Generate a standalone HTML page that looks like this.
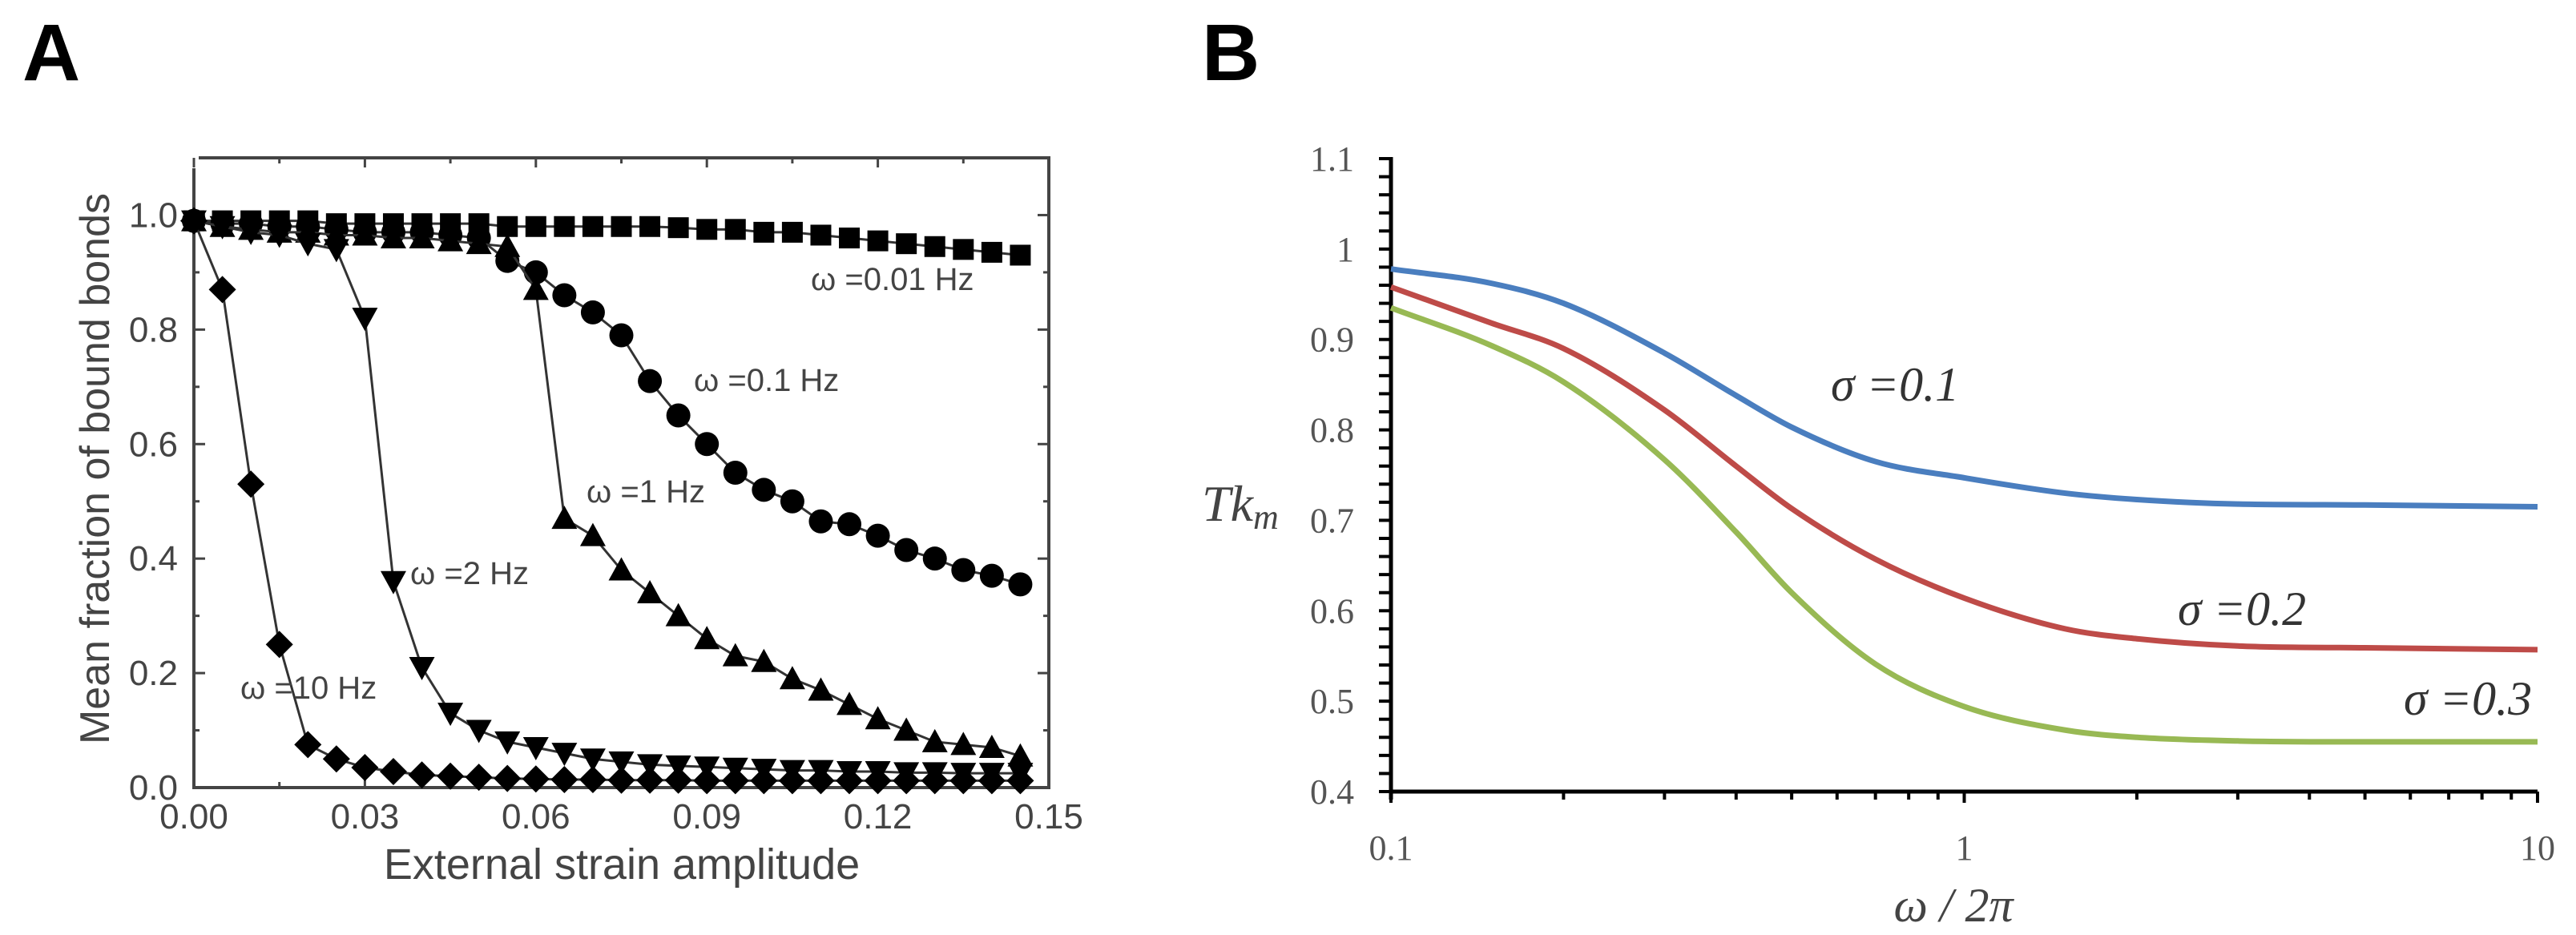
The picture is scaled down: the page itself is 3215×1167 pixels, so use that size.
<!DOCTYPE html>
<html><head><meta charset="utf-8"><style>
html,body{margin:0;padding:0;background:#fff;}
svg{display:block;}
</style></head><body>
<svg id="fig" width="3215" height="1167" viewBox="0 0 3215 1167" xmlns="http://www.w3.org/2000/svg">
<text x="28" y="100" font-family="Liberation Sans, sans-serif" font-weight="bold" font-size="100">A</text>
<text x="1500" y="100" font-family="Liberation Sans, sans-serif" font-weight="bold" font-size="100">B</text>
<g id="pa"></g>
<g id="pb"></g>
</svg>
<script>
// ---------- Panel A data ----------
const strainX = [0,0.005,0.01,0.015,0.02,0.025,0.03,0.035,0.04,0.045,0.05,0.055,0.06,0.065,0.07,0.075,0.08,0.085,0.09,0.095,0.1,0.105,0.11,0.115,0.12,0.125,0.13,0.135,0.14,0.145];
const hz001 = [0.99,0.99,0.99,0.99,0.99,0.985,0.985,0.985,0.985,0.985,0.985,0.98,0.98,0.98,0.98,0.98,0.98,0.978,0.975,0.975,0.97,0.97,0.965,0.96,0.955,0.95,0.945,0.94,0.935,0.93];
const hz01 = [0.99,0.985,0.985,0.98,0.98,0.975,0.97,0.97,0.97,0.965,0.96,0.92,0.90,0.86,0.83,0.79,0.71,0.65,0.60,0.55,0.52,0.50,0.465,0.46,0.44,0.415,0.40,0.38,0.37,0.355];
const hz1 = [0.99,0.98,0.975,0.97,0.97,0.965,0.965,0.96,0.96,0.955,0.95,0.945,0.87,0.47,0.44,0.38,0.34,0.30,0.26,0.23,0.22,0.19,0.17,0.145,0.12,0.10,0.08,0.075,0.07,0.055];
const hz2 = [0.99,0.98,0.97,0.965,0.95,0.94,0.82,0.36,0.21,0.13,0.10,0.08,0.07,0.06,0.05,0.045,0.04,0.038,0.036,0.034,0.032,0.03,0.03,0.028,0.028,0.026,0.026,0.025,0.025,0.025];
const hz10 = [0.99,0.87,0.53,0.25,0.075,0.05,0.035,0.028,0.022,0.02,0.018,0.016,0.015,0.014,0.014,0.013,0.013,0.013,0.012,0.012,0.012,0.012,0.012,0.012,0.012,0.012,0.012,0.012,0.012,0.012];
const aXTicks = [0,0.03,0.06,0.09,0.12,0.15];
const aXTickLabels = ["0.00","0.03","0.06","0.09","0.12","0.15"];
const aYTicks = [0,0.2,0.4,0.6,0.8,1.0];
const aYTickLabels = ["0.0","0.2","0.4","0.6","0.8","1.0"];

// ---------- Panel B data ----------
const freqX = [0.1,0.15,0.2,0.3,0.4,0.5,0.7,1,1.5,2,3,5,10];
const sigma01 = [0.978,0.962,0.94,0.885,0.838,0.803,0.765,0.747,0.73,0.723,0.718,0.717,0.715];
const sigma02 = [0.958,0.918,0.89,0.822,0.76,0.713,0.657,0.614,0.58,0.569,0.561,0.559,0.557];
const sigma03 = [0.935,0.893,0.853,0.767,0.687,0.62,0.541,0.494,0.468,0.46,0.456,0.455,0.455];
const bXTicks = [0.1,1,10];
const bXTickLabels = ["0.1","1","10"];
const bYTicks = [0.4,0.5,0.6,0.7,0.8,0.9,1.0,1.1];
const bYTickLabels = ["0.4","0.5","0.6","0.7","0.8","0.9","1","1.1"];

const NS = "http://www.w3.org/2000/svg";
function mk(tag, attrs, parent){const e=document.createElementNS(NS,tag);for(const k in attrs)e.setAttribute(k,attrs[k]);parent.appendChild(e);return e;}

// ----- Panel A -----
const pa = document.getElementById('pa');
const AL=242, AR=1309, AT=197, AB=983;
const ax = v => AL + v/0.15*(AR-AL);
const ay = v => AB - v/1.1*(AB-AT);
const AC='#444';
let fr = mk('path',{d:`M${AL},210 L${AL},${AB} L${AR},${AB} L${AR},${AT} L248,${AT}`,fill:'none',stroke:AC,'stroke-width':4},pa);


for(let k=0;k<=10;k++){
  const v=k*0.015, major=(k%2===0);
  const len=major?12:7;
  const l=mk('line',{x1:ax(v),x2:ax(v),y1:AB,y2:AB-len,stroke:AC,'stroke-width':3},pa);
  
  
  const t=mk('line',{x1:ax(v),x2:ax(v),y1:AT,y2:AT+len,stroke:AC,'stroke-width':3},pa);
  
  
}
aXTicks.forEach((t,i)=>{
  const tx=mk('text',{x:ax(t),y:1034,'text-anchor':'middle','font-family':'Liberation Sans, sans-serif','font-size':44,fill:'#444'},pa);
  tx.textContent=aXTickLabels[i];
  
  
});
for(let k=0;k<=10;k++){
  const v=k*0.1, major=(k%2===0);
  const len=major?14:7;
  const l=mk('line',{x1:AL,x2:AL+len,y1:ay(v),y2:ay(v),stroke:AC,'stroke-width':3},pa);
  
  
  const r=mk('line',{x1:AR,x2:AR-len,y1:ay(v),y2:ay(v),stroke:AC,'stroke-width':3},pa);
  
  
}
aYTicks.forEach((t,i)=>{
  const tx=mk('text',{x:222,y:ay(t)+15,'text-anchor':'end','font-family':'Liberation Sans, sans-serif','font-size':44,fill:'#444'},pa);
  tx.textContent=aYTickLabels[i];
  
  
});
let xt=mk('text',{x:776,y:1097,'text-anchor':'middle','font-family':'Liberation Sans, sans-serif','font-size':54,fill:'#444'},pa);
xt.textContent='External strain amplitude';


let yt=mk('text',{x:0,y:0,'text-anchor':'middle','font-family':'Liberation Sans, sans-serif','font-size':52,fill:'#444',transform:'translate(136,585) rotate(-90)'},pa);
yt.textContent='Mean fraction of bound bonds';



function marker(shape,cx,cy,g){
  const s=13;let e;
  if(shape==='square') e=mk('rect',{x:cx-s,y:cy-s,width:2*s,height:2*s,fill:'#000'},g);
  else if(shape==='circle') e=mk('circle',{cx:cx,cy:cy,r:15,fill:'#000'},g);
  else if(shape==='up') e=mk('polygon',{points:`${cx},${cy-16} ${cx+16},${cy+13} ${cx-16},${cy+13}`,fill:'#000'},g);
  else if(shape==='down') e=mk('polygon',{points:`${cx},${cy+16} ${cx+16},${cy-13} ${cx-16},${cy-13}`,fill:'#000'},g);
  else e=mk('polygon',{points:`${cx},${cy-17} ${cx+17},${cy} ${cx},${cy+17} ${cx-17},${cy}`,fill:'#000'},g);
  return e;
}
const aSeries=[[hz001,'square','series-0.01hz'],[hz01,'circle','series-0.1hz'],[hz1,'up','series-1hz'],[hz2,'down','series-2hz'],[hz10,'diamond','series-10hz']];
aSeries.forEach(([vals,shape,name])=>{
  const g=mk('g',{},pa);
  
  
  const pl=mk('polyline',{points:vals.map((v,i)=>ax(strainX[i])+','+ay(v)).join(' '),fill:'none',stroke:'#333','stroke-width':3},g);
  
  
  vals.forEach((v,i)=>{
    const m=marker(shape,ax(strainX[i]),ay(v),g);
    
    
  });
});
[['ω =0.01 Hz',1012,362],['ω =0.1 Hz',866,488],['ω =1 Hz',732,627],['ω =2 Hz',512,729],['ω =10 Hz',300,872]].forEach(([t,x,y])=>{
  const tx=mk('text',{x:x,y:y,'font-family':'Liberation Sans, sans-serif','font-size':40,fill:'#444'},pa);
  tx.textContent=t;
  
  
});

// ----- Panel B -----
const pb=document.getElementById('pb');
const BL=1736, BR=3167, BT=198, BB=988;
const bx = v => BL + (Math.log10(v)+1)/2*(BR-BL);
const by = v => BB - (v-0.4)/0.7*(BB-BT);
let yax=mk('line',{x1:BL,x2:BL,y1:BT-2,y2:BB+10,stroke:'#000','stroke-width':5},pb);


let xax=mk('line',{x1:BL,x2:BR,y1:BB,y2:BB,stroke:'#000','stroke-width':5},pb);


for(let k=0;k<=35;k++){
  const v=0.4+k*0.02;
  const l=mk('line',{x1:BL-15,x2:BL,y1:by(v),y2:by(v),stroke:'#000','stroke-width':4},pb);
  
  
}
bYTicks.forEach((t,i)=>{
  const tx=mk('text',{x:1690,y:by(t)+15,'text-anchor':'end','font-family':'Liberation Serif, serif','font-size':44,fill:'#555'},pb);
  tx.textContent=bYTickLabels[i];
  
  
});
[0.1,1].forEach(d=>{for(let m=1;m<=10;m++){
  const v=d*m, major=(m===1||m===10);
  const l=mk('line',{x1:bx(v),x2:bx(v),y1:BB,y2:BB+(major?14:10),stroke:'#000','stroke-width':4},pb);
  
  
}});
bXTicks.forEach((t,i)=>{
  const tx=mk('text',{x:bx(t),y:1073,'text-anchor':'middle','font-family':'Liberation Serif, serif','font-size':44,fill:'#555'},pb);
  tx.textContent=bXTickLabels[i];
  
  
});
let bxt=mk('text',{x:2438,y:1150,'text-anchor':'middle','font-family':'Liberation Serif, serif','font-style':'italic','font-size':60,fill:'#444'},pb);
bxt.textContent='ω / 2π';


let byt=mk('text',{x:1500,y:650,'font-family':'Liberation Serif, serif','font-style':'italic','font-size':64,fill:'#444'},pb);
byt.innerHTML='Tk<tspan font-size="44" dy="10">m</tspan>';



function monotone(pts){
  const n=pts.length, dx=[], s=[], m=[];
  for(let i=0;i<n-1;i++){dx[i]=pts[i+1][0]-pts[i][0]; s[i]=(pts[i+1][1]-pts[i][1])/dx[i];}
  m[0]=s[0]; m[n-1]=s[n-2];
  for(let i=1;i<n-1;i++){ m[i]=(s[i-1]*s[i]<=0)?0:(s[i-1]+s[i])/2; }
  for(let i=0;i<n-1;i++){
    if(s[i]===0){m[i]=0;m[i+1]=0;continue;}
    const a=m[i]/s[i], b=m[i+1]/s[i], h=a*a+b*b;
    if(h>9){const t=3/Math.sqrt(h); m[i]=t*a*s[i]; m[i+1]=t*b*s[i];}
  }
  let d='M'+pts[0][0]+','+pts[0][1];
  for(let i=0;i<n-1;i++){
    const h=dx[i]/3;
    d+=` C${pts[i][0]+h},${pts[i][1]+m[i]*h} ${pts[i+1][0]-h},${pts[i+1][1]-m[i+1]*h} ${pts[i+1][0]},${pts[i+1][1]}`;
  }
  return d;
}
[[sigma01,'#4a7ebf','sigma-0.1-curve'],[sigma02,'#be4b48','sigma-0.2-curve'],[sigma03,'#98b954','sigma-0.3-curve']].forEach(([vals,col,name])=>{
  const p=mk('path',{d:monotone(vals.map((v,i)=>[bx(freqX[i]),by(v)])),fill:'none',stroke:col,'stroke-width':7},pb);
  
  
});
[['σ =0.1',2285,500],['σ =0.2',2718,780],['σ =0.3',3000,892]].forEach(([t,x,y])=>{
  const tx=mk('text',{x:x,y:y,'font-family':'Liberation Serif, serif','font-style':'italic','font-size':60,fill:'#333'},pb);
  tx.textContent=t;
  
  
});
</script>
</body></html>
